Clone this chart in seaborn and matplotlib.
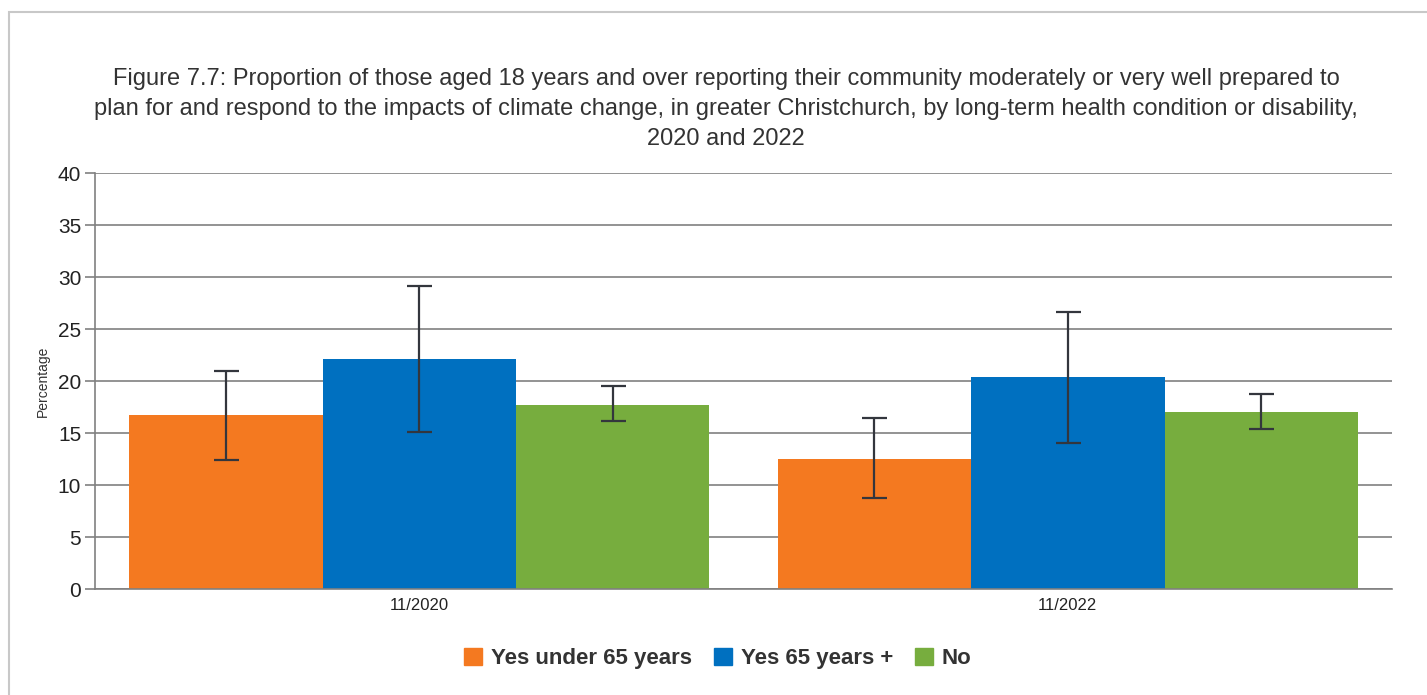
import matplotlib
matplotlib.use("Agg")
import matplotlib.pyplot as plt
import seaborn as sns
import pandas as pd
import numpy as np
from matplotlib.patches import Rectangle

# data
periods = ["11/2020", "11/2022"]
groups = ["Yes under 65 years", "Yes 65 years +", "No"]
values = {
    "Yes under 65 years": [16.7, 12.5],
    "Yes 65 years +": [22.1, 20.4],
    "No": [17.7, 17.0],
}
lower = {
    "Yes under 65 years": [12.4, 8.8],
    "Yes 65 years +": [15.1, 14.0],
    "No": [16.2, 15.4],
}
upper = {
    "Yes under 65 years": [21.0, 16.4],
    "Yes 65 years +": [29.1, 26.6],
    "No": [19.5, 18.8],
}
colors = ["#F47920", "#0070C0", "#77AD3E"]

rows = []
for g in groups:
    for i, p in enumerate(periods):
        rows.append({"period": p, "group": g, "value": values[g][i]})
df = pd.DataFrame(rows)

sns.set_style("white")
plt.rcParams["font.family"] = ["Liberation Sans", "DejaVu Sans"]

fig = plt.figure(figsize=(14.27, 6.95), dpi=100)
ax = fig.add_axes([0.0666, 0.1525, 0.9089, 0.5985])

sns.barplot(data=df, x="period", y="value", hue="group", order=periods,
            hue_order=groups, palette=colors, width=0.895, gap=0,
            saturation=1, errorbar=None, ax=ax, legend=True, zorder=2,
            linewidth=0)

# error bars from confidence bounds
for cont, g in zip(ax.containers, groups):
    xs = [b.get_x() + b.get_width() / 2 for b in cont]
    v = np.array(values[g])
    yerr = [v - np.array(lower[g]), np.array(upper[g]) - v]
    ax.errorbar(xs, v, yerr=yerr, fmt="none", ecolor="#33363d",
                elinewidth=1.6, capsize=9, capthick=1.6, zorder=3)

ax.set_ylim(0, 40)
ax.set_xlim(-0.5, 1.5)
ax.set_yticks(range(0, 41, 5))
ax.yaxis.grid(True, color="#808080", linewidth=1.2, zorder=0)
ax.set_axisbelow(True)
ax.tick_params(axis="y", left=True, length=7, width=1.2, color="#808080",
               labelsize=15, labelcolor="#222222", pad=3)
ax.tick_params(axis="x", bottom=False, labelsize=12, labelcolor="#222222", pad=3)
for s in ["top", "right"]:
    ax.spines[s].set_visible(False)
for s in ["left", "bottom"]:
    ax.spines[s].set_color("#808080")
    ax.spines[s].set_linewidth(1.2)
ax.set_xlabel("")
ax.set_ylabel("Percentage", fontsize=10, color="#333333", labelpad=6)

fig.text(0.509, 0.843,
         "Figure 7.7: Proportion of those aged 18 years and over reporting their community moderately or very well prepared to\n"
         "plan for and respond to the impacts of climate change, in greater Christchurch, by long-term health condition or disability,\n"
         "2020 and 2022",
         ha="center", va="center", fontsize=17, color="#333333", linespacing=1.48)

ax.legend_.remove()
handles = [Rectangle((0, 0), 1, 1, color=c) for c in colors]
leg = fig.legend(handles, groups, loc="center", bbox_to_anchor=(0.503, 0.052),
                 ncol=3, frameon=False, handlelength=0.8, handleheight=0.8,
                 handletextpad=0.4, columnspacing=1.0,
                 prop={"size": 16, "weight": "bold"})
for t in leg.get_texts():
    t.set_color("#333333")

fig.patches.append(Rectangle((0.0063, -0.05), 1.1, 1.0327, transform=fig.transFigure,
                             fill=False, edgecolor="#c8c8c8", linewidth=1.5))

fig.savefig("out.png", dpi=100)
